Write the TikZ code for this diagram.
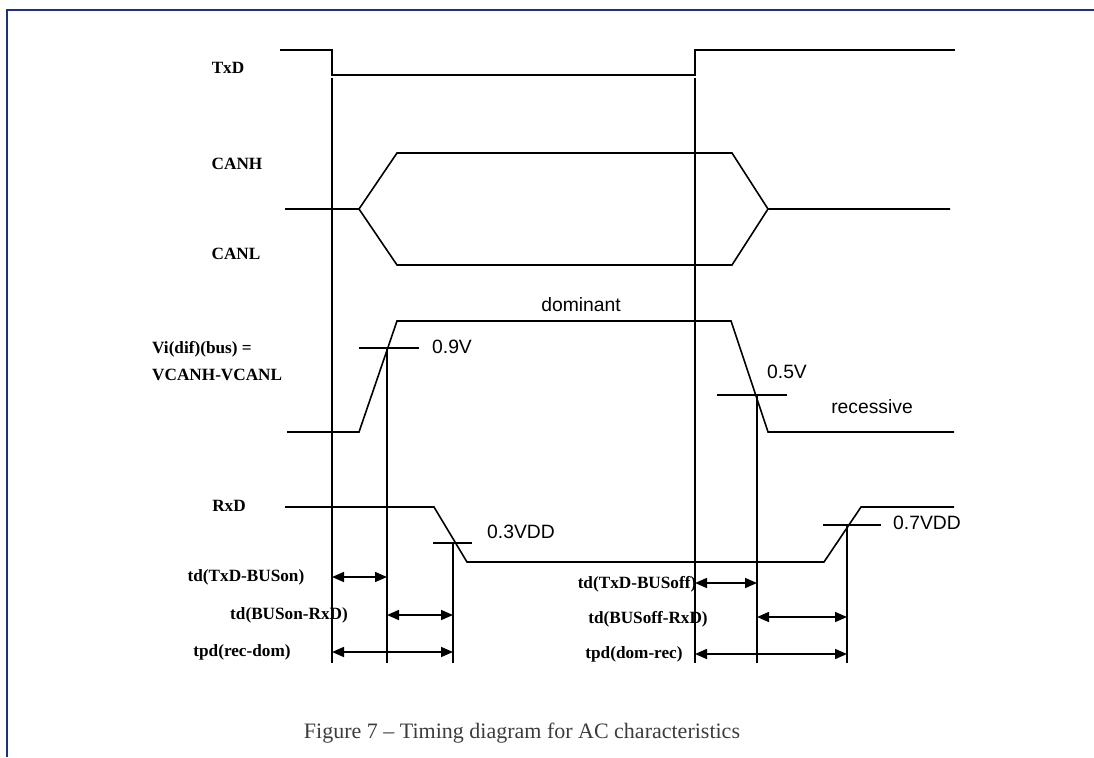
\documentclass[tikz,border=0pt]{standalone}
\usepackage{fontspec}
\setmainfont{Liberation Serif}
\newfontfamily\lsans{Liberation Sans}
\usetikzlibrary{arrows.meta}
\definecolor{framecol}{RGB}{32,48,128}
\definecolor{capcol}{RGB}{60,60,60}
\tikzset{
  sig/.style={line width=1.6pt, black, line join=miter},
  vline/.style={line width=1.6pt, black},
  tick/.style={line width=1.4pt, black},
  dim/.style={line width=1.6pt, black, {Triangle[length=12pt,width=10pt]}-{Triangle[length=12pt,width=10pt]}},
  siglabel/.style={font=\fontsize{17.2}{19}\selectfont\bfseries, inner sep=0pt},
  dimlabel/.style={font=\fontsize{17.2}{19}\selectfont\bfseries, inner sep=0pt},
  lvl/.style={font=\lsans\fontsize{19.3}{21}\selectfont, inner sep=0pt},
}
\begin{document}
\begin{tikzpicture}[x=1pt,y=-1pt]
\useasboundingbox (0,0) rectangle (1094,757);
% frame
\draw[framecol, line width=2pt] (6,10) -- (1094,10);
\draw[framecol, line width=2pt] (7,10) -- (7,757);

% signal labels
\node[siglabel] (lTxD) at (228,68) {TxD};
\node[siglabel] (lCANH) at (237,164) {CANH};
\node[siglabel] (lCANL) at (236,254) {CANL};
\node[siglabel, anchor=west] (lVi1) at (152,349) {Vi(dif)(bus) =};
\node[siglabel, anchor=west] (lVi2) at (152,375) {VCANH-VCANL};
\node[siglabel] (lRxD) at (229,506) {RxD};

% TxD
\draw[sig] (280,50) -- (332,50) -- (332,75) -- (695,75) -- (695,50) -- (955,50);
% CANH / CANL
\draw[sig] (285,209) -- (359,209) -- (397,153) -- (732,153) -- (768,209) -- (950,209);
\draw[sig] (359,209) -- (397,265) -- (732,265) -- (768,209);
% Vi(dif)(bus)
\draw[sig] (287,432) -- (359,432) -- (397,321) -- (731,321) -- (768,432) -- (954,432);
% RxD
\draw[sig] (285,507) -- (434,507) -- (467,562) -- (824,562) -- (861,507) -- (954,507);

% threshold ticks
\draw[tick] (359,348) -- (419,348);
\draw[tick] (717,395) -- (787,395);
\draw[tick] (433,543) -- (472,543);
\draw[tick] (823,525) -- (881,525);

% vertical reference lines
\coordinate (v1t) at (332,78);  \coordinate (v1b) at (332,663);
\coordinate (v2t) at (387,348); \coordinate (v2b) at (387,663);
\coordinate (v3t) at (453,543); \coordinate (v3b) at (453,663);
\coordinate (v4t) at (695,78);  \coordinate (v4b) at (695,663);
\coordinate (v5t) at (757,395); \coordinate (v5b) at (757,663);
\coordinate (v6t) at (847,525); \coordinate (v6b) at (847,663);
\foreach \v in {v1,v2,v3,v4,v5,v6} \draw[vline] (\v t) -- (\v b);

% level labels
\node[lvl] (l09) at (452,347) {0.9V};
\node[lvl] (l05) at (787,372) {0.5V};
\node[lvl] (l03) at (521,532) {0.3VDD};
\node[lvl] (l07) at (927,523) {0.7VDD};
\node[lvl] (ldom) at (581,305) {dominant};
\node[lvl] (lrec) at (872,407) {recessive};

% dimension arrows
\coordinate (a1l) at (332,577); \coordinate (a1r) at (387,577);
\coordinate (a2l) at (387,615); \coordinate (a2r) at (453,615);
\coordinate (a3l) at (332,652); \coordinate (a3r) at (453,652);
\coordinate (b1l) at (695,583); \coordinate (b1r) at (757,583);
\coordinate (b2l) at (757,617); \coordinate (b2r) at (847,617);
\coordinate (b3l) at (695,654); \coordinate (b3r) at (847,654);
\draw[dim] (a1l) -- (a1r);
\draw[dim] (a2l) -- (a2r);
\draw[dim] (a3l) -- (a3r);
\draw[dim] (b1l) -- (b1r);
\draw[dim] (b2l) -- (b2r);
\draw[dim] (b3l) -- (b3r);

\node[dimlabel] (ta1) at (246,577) {td(TxD-BUSon)};
\node[dimlabel] (ta2) at (289,615) {td(BUSon-RxD)};
\node[dimlabel] (ta3) at (242,652) {tpd(rec-dom)};
\node[dimlabel] (tb1) at (637,584) {td(TxD-BUSoff)};
\node[dimlabel] (tb2) at (648,619) {td(BUSoff-RxD)};
\node[dimlabel] (tb3) at (634,654) {tpd(dom-rec)};

% caption
\node[font=\fontsize{22}{24}\selectfont, text=capcol, inner sep=0pt] (cap) at (522,733) {Figure 7 -- Timing diagram for AC characteristics};
\end{tikzpicture}
\end{document}
